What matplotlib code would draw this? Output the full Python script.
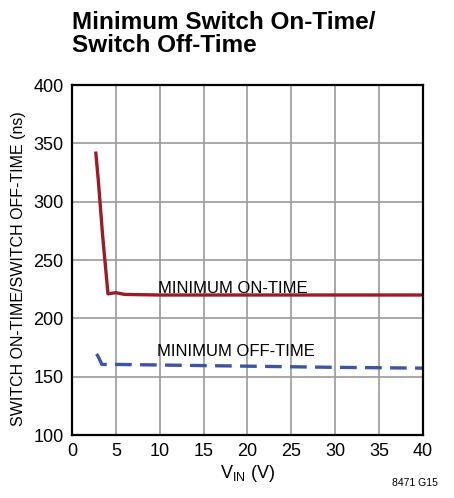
import matplotlib.pyplot as plt

plt.rcParams['font.family'] = ['Liberation Sans Narrow', 'DejaVu Sans Condensed', 'Liberation Sans']
plt.rcParams['font.stretch'] = 'condensed'

# data
on_vin = [2.7, 3.0, 3.5, 4.1, 5.0, 6.0, 10, 20, 30, 40]
on_time = [343, 318, 270, 221, 222, 220.5, 220, 220, 220, 220]
off_vin = [2.8, 3.0, 3.4, 5, 10, 20, 30, 40]
off_time = [169.5, 167, 160.5, 160.5, 160, 159, 158, 157.3]

xticks = [0, 5, 10, 15, 20, 25, 30, 35, 40]
yticks = [100, 150, 200, 250, 300, 350, 400]

fig = plt.figure(figsize=(4.54, 4.98), dpi=100)
ax = fig.add_axes([0.1586, 0.1265, 0.7731, 0.7028])

ax.plot(on_vin, on_time, color='#9b1c24', lw=2.4, solid_capstyle='butt')
ax.plot(off_vin, off_time, color='#3a55a6', lw=2.4, dashes=(5, 2.5))

ax.text(9.8, 226, 'MINIMUM ON-TIME', fontsize=12, va='center', ha='left')
ax.text(9.7, 172, 'MINIMUM OFF-TIME', fontsize=12, va='center', ha='left')

ax.set_xlim(0, 40)
ax.set_ylim(100, 400)
ax.set_xticks(xticks)
ax.set_yticks(yticks)
ax.tick_params(length=0, labelsize=13, pad=6)
ax.grid(True, color='#9a9a9a', lw=1.2)
ax.set_axisbelow(True)
for s in ax.spines.values():
    s.set_linewidth(1.6)

ax.set_xlabel('V$_{\\mathregular{IN}}$ (V)', fontsize=13, labelpad=2)
ax.set_ylabel('SWITCH ON-TIME/SWITCH OFF-TIME (ns)', fontsize=11.5)
ax.yaxis.set_label_coords(-0.13, 0.475)

fig.text(0.158, 0.978, 'Minimum Switch On-Time/\nSwitch Off-Time', fontsize=17.5,
         fontweight='bold', va='top', ha='left', linespacing=0.98)
fig.text(0.965, 0.02, '8471 G15', fontsize=7.5, ha='right', va='bottom')

fig.savefig('out.png', dpi=100)
